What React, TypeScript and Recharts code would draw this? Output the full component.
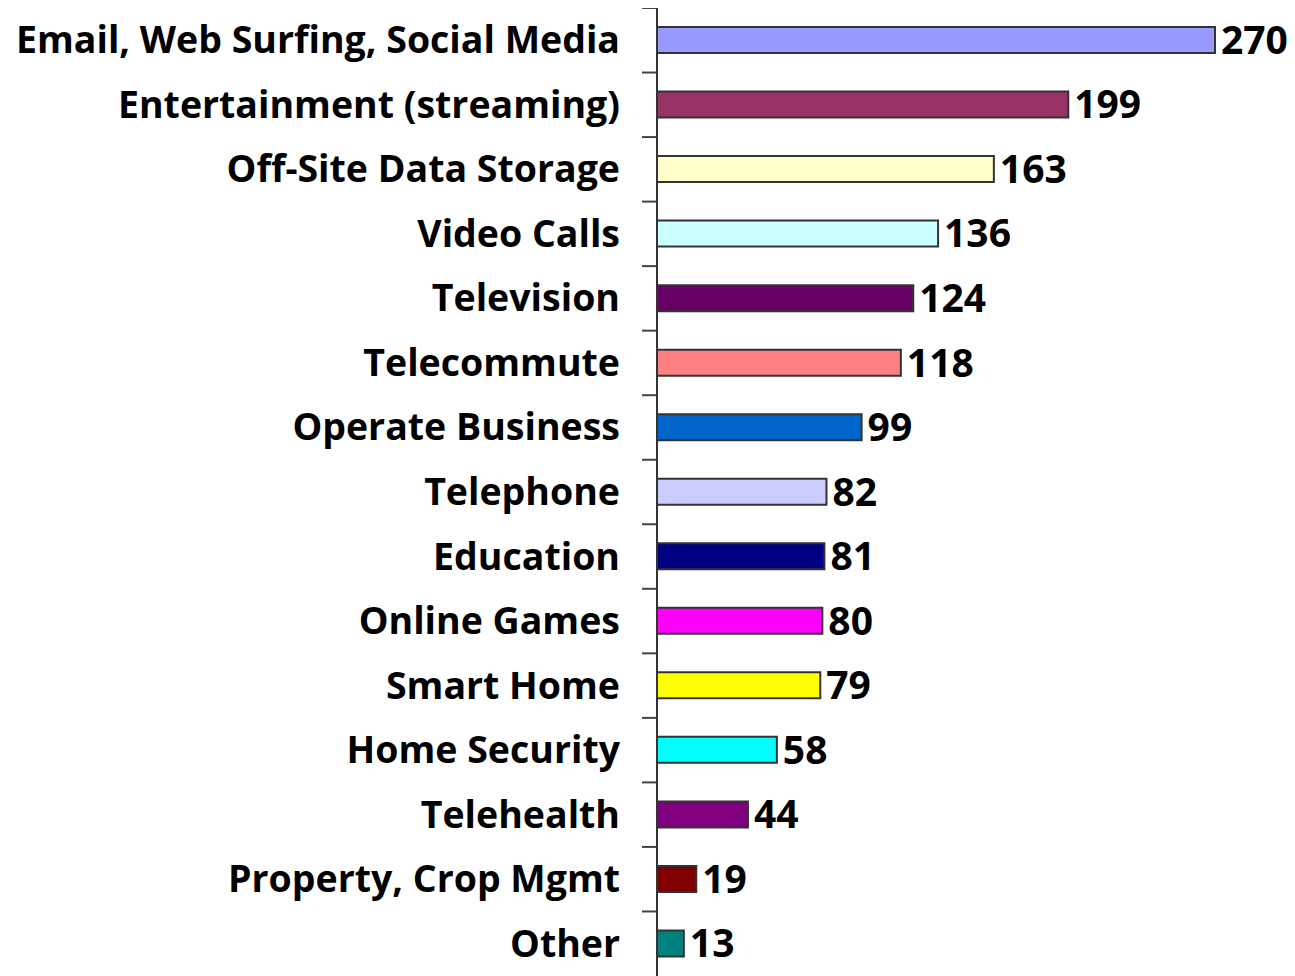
import { BarChart, Bar, XAxis, YAxis, Cell, LabelList } from "recharts";

const categories = [
  "Email, Web Surfing, Social Media",
  "Entertainment (streaming)",
  "Off-Site Data Storage",
  "Video Calls",
  "Television",
  "Telecommute",
  "Operate Business",
  "Telephone",
  "Education",
  "Online Games",
  "Smart Home",
  "Home Security",
  "Telehealth",
  "Property, Crop Mgmt",
  "Other",
];

const counts = [270, 199, 163, 136, 124, 118, 99, 82, 81, 80, 79, 58, 44, 19, 13];

const barColors = [
  "#9999FF",
  "#993366",
  "#FFFFCC",
  "#CCFFFF",
  "#660066",
  "#FF8080",
  "#0066CC",
  "#CCCCFF",
  "#000080",
  "#FF00FF",
  "#FFFF00",
  "#00FFFF",
  "#800080",
  "#800000",
  "#008080",
];

const data = categories.map((name, i) => ({ name, count: counts[i] }));

const FONT = "'Open Sans', Lato, sans-serif";

// label on the left, plus a small tick mark between categories
const CategoryTick = (props: any) => {
  const { x, y, payload } = props;
  const half = payload?.offset || 968 / categories.length / 2;
  return (
    <g>
      <line x1={x - 9} x2={x + 6} y1={y - half} y2={y - half} stroke="#444" strokeWidth={2} />
      <text
        x={x - 31}
        y={y}
        dy={13}
        textAnchor="end"
        fontFamily={FONT}
        fontWeight="bold"
        fontSize={37.5}
        fill="#000"
      >
        {payload.value}
      </text>
    </g>
  );
};

export default function App() {
  return (
    <BarChart
      width={1287}
      height={968}
      data={data}
      layout="vertical"
      margin={{ top: 0, right: 18, bottom: 0, left: 0 }}
    >
      <XAxis type="number" domain={[0, 300]} hide />
      <YAxis
        type="category"
        dataKey="name"
        width={649}
        tickLine={false}
        tickMargin={0}
        tick={<CategoryTick />}
        axisLine={{ stroke: "#333", strokeWidth: 2 }}
        interval={0}
      />
      <Bar dataKey="count" barSize={26} stroke="#333" strokeWidth={2} isAnimationActive={false}>
        {data.map((d, i) => (
          <Cell key={d.name} fill={barColors[i]} />
        ))}
        <LabelList
          dataKey="count"
          position="right"
          offset={6}
          fill="#000"
          fontFamily={FONT}
          fontWeight="bold"
          fontSize={39}
        />
      </Bar>
    </BarChart>
  );
}
